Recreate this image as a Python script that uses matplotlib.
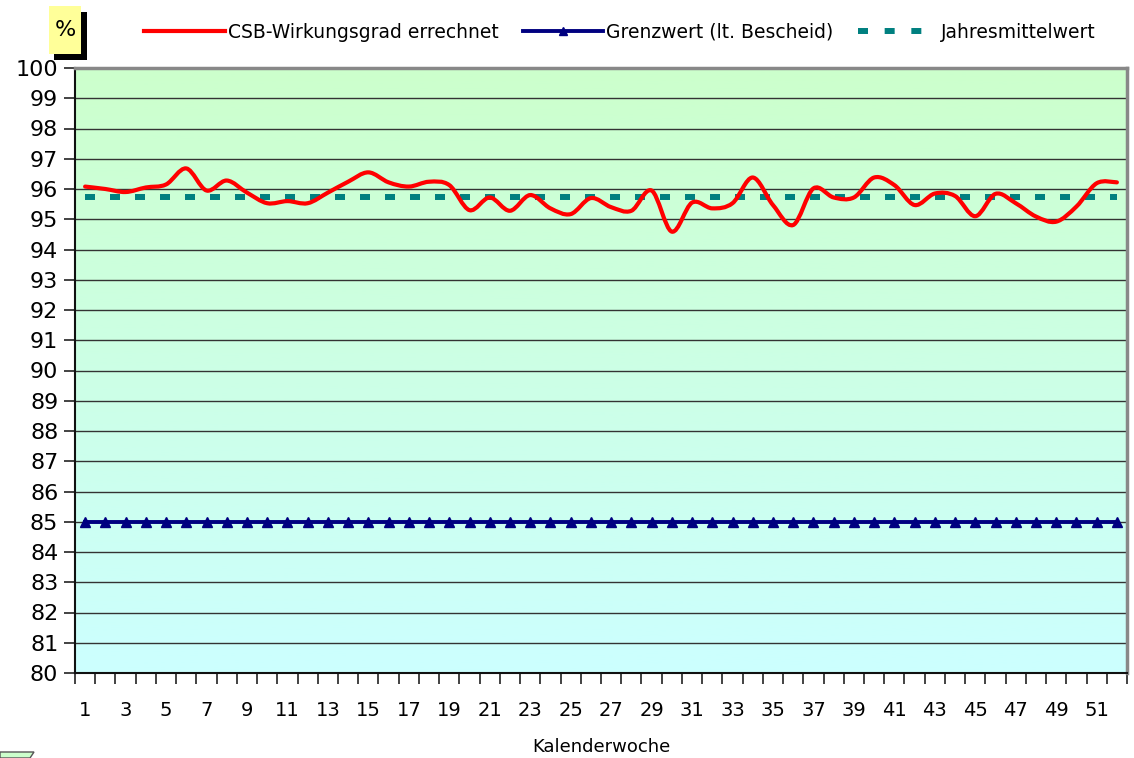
import numpy as np
import matplotlib
matplotlib.use("Agg")
import matplotlib.pyplot as plt
from matplotlib.path import Path
from matplotlib.patches import PathPatch, Rectangle, Polygon
from matplotlib.lines import Line2D

plt.rcParams['font.family'] = ['DejaVu Sans']
plt.rcParams['lines.scale_dashes'] = False

weeks = list(range(1, 53))
wirkungsgrad = [96.08, 96.0, 95.9, 96.05, 96.15, 96.68, 95.95, 96.28, 95.88, 95.53,
                95.6, 95.53, 95.88, 96.24, 96.55, 96.22, 96.08, 96.24, 96.13, 95.3,
                95.72, 95.28, 95.8, 95.36, 95.17, 95.7, 95.4, 95.28, 95.95, 94.59,
                95.55, 95.36, 95.53, 96.38, 95.47, 94.81, 96.02, 95.72, 95.72, 96.38,
                96.13, 95.47, 95.85, 95.77, 95.1, 95.84, 95.53, 95.09, 94.92, 95.42,
                96.19, 96.22]
grenzwert = [85.0] * 52
jahresmittel = [95.75] * 52
xtick_labels = [str(w) for w in range(1, 53, 2)]

fig = plt.figure(figsize=(11.34, 7.58), dpi=100)
ax = fig.add_axes([75/1134, 1-673/758, (1127-75)/1134, (673-68)/758])

ax.set_xlim(0.5, 52.5)
ax.set_ylim(80, 100)

# gradient background
grad = np.linspace(0, 1, 256).reshape(-1, 1)
top = np.array([0xCC, 0xFF, 0xCC]) / 255
bot = np.array([0xCC, 0xFF, 0xFF]) / 255
img = top[None, None, :] * (1 - grad[:, :, None]) + bot[None, None, :] * grad[:, :, None]
ax.imshow(img, extent=[0, 1, 0, 1], transform=ax.transAxes, aspect='auto', zorder=0)

# grid
for v in range(81, 100):
    ax.axhline(v, color='#333333', lw=1.0, zorder=1)

# smoothed red line (Catmull-Rom style Bezier)
x = np.array(weeks, dtype=float)
y = np.array(wirkungsgrad, dtype=float)
n = len(x)
verts = [(x[0], y[0])]
codes = [Path.MOVETO]
for i in range(n - 1):
    p0 = np.array([x[max(i - 1, 0)], y[max(i - 1, 0)]])
    p1 = np.array([x[i], y[i]])
    p2 = np.array([x[i + 1], y[i + 1]])
    p3 = np.array([x[min(i + 2, n - 1)], y[min(i + 2, n - 1)]])
    c1 = p1 + (p2 - p0) / 6.0
    c2 = p2 - (p3 - p1) / 6.0
    verts += [tuple(c1), tuple(c2), tuple(p2)]
    codes += [Path.CURVE4] * 3
path = Path(verts, codes)
ax.add_patch(PathPatch(path, facecolor='none', edgecolor='#FF0000', lw=3.0,
                       capstyle='round', joinstyle='round', zorder=4))

ax.plot(weeks, jahresmittel, color='#008080', lw=4.3, linestyle=(0, (7.2, 10.8)),
        dash_capstyle='butt', zorder=3)
ax.plot(weeks, grenzwert, color='#000080', lw=2.8, marker='^', markersize=6.5,
        markeredgecolor='#000080', zorder=5)

# axes styling
ax.set_yticks(range(80, 101))
ax.set_yticklabels([str(v) for v in range(80, 101)], fontsize=16)
ax.set_xticks(range(1, 53, 2))
ax.set_xticklabels(xtick_labels, fontsize=14)
ax.set_xticks(np.arange(0.5, 53, 1), minor=True)
ax.tick_params(axis='x', which='major', length=0, pad=20)
ax.tick_params(axis='x', which='minor', length=8, width=1.2, direction='out', color='#222222')
ax.tick_params(axis='y', which='major', length=8, width=1.2, direction='out', pad=4,
               color='#222222')
for s in ['left', 'bottom']:
    ax.spines[s].set_color('#111111')
    ax.spines[s].set_linewidth(1.5)
for s in ['top', 'right']:
    ax.spines[s].set_color('#888888')
    ax.spines[s].set_linewidth(2.5)
ax.set_xlabel('Kalenderwoche', fontsize=13, labelpad=13)

# legend
handles = [
    Line2D([], [], color='#FF0000', lw=3.0),
    Line2D([], [], color='#000080', lw=2.8, marker='^', markersize=6, markevery=[0]),
    Line2D([], [], color='#008080', lw=4.3,
           linestyle=(0, (7.2, 12.0, 7.2, 12.0, 7.2, 40.0)), dash_capstyle='butt'),
]
labels = ['CSB-Wirkungsgrad errechnet', 'Grenzwert (lt. Bescheid)', 'Jahresmittelwert']
fig.legend(handles, labels, loc='center', bbox_to_anchor=(620/1134, 1-32/758), ncol=3,
           frameon=False, fontsize=13.5, handlelength=4.3, handletextpad=0.15,
           columnspacing=1.3)

# "%" label box with shadow
fig.patches.append(Rectangle((54/1134, 1-60/758), 33/1134, 48/758, transform=fig.transFigure,
                             facecolor='black', edgecolor='none', zorder=1))
fig.patches.append(Rectangle((49/1134, 1-54/758), 32/1134, 48/758, transform=fig.transFigure,
                             facecolor='#FFFF99', edgecolor='none', zorder=2))
fig.text(65/1134, 1-30/758, '%', ha='center', va='center', fontsize=16, zorder=3)

# small shape bottom-left
fig.patches.append(Polygon([(0, 0), (30/1134, 0), (34/1134, 6/758), (0, 6/758)], closed=True,
                           transform=fig.transFigure, facecolor='#CCFFCC', edgecolor='#555555',
                           lw=1))

fig.savefig('out.png', dpi=100)
